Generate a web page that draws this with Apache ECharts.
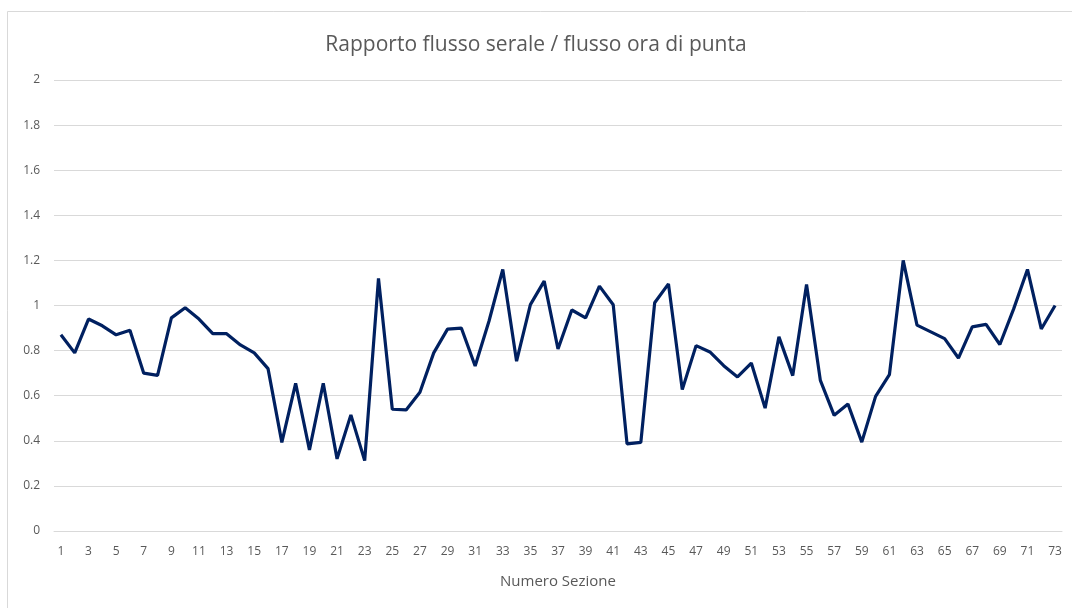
<!DOCTYPE html>
<html>
<head>
<meta charset="utf-8">
<script src="https://cdn.jsdelivr.net/npm/echarts@6/dist/echarts.min.js"></script>
<style>
    html, body { margin: 0; padding: 0; background: #fff; }
    #chart { width: 1072px; height: 608px; }
</style>
</head>
<body>
<div id="chart"></div>
<script>
// sezioni 1..73
const sezioni = [];
for (let i = 1; i <= 73; i++) sezioni.push(String(i));

// rapporto flusso serale / flusso ora di punta
const rapporto = [
    0.87, 0.79, 0.94, 0.91, 0.87, 0.89, 0.70, 0.69, 0.945, 0.99,
    0.94, 0.875, 0.875, 0.825, 0.79, 0.72, 0.393, 0.655, 0.36, 0.655,
    0.32, 0.515, 0.312, 1.12, 0.54, 0.537, 0.615, 0.79, 0.895, 0.90,
    0.732, 0.93, 1.16, 0.753, 1.004, 1.108, 0.807, 0.98, 0.945, 1.086,
    1.003, 0.386, 0.393, 1.012, 1.096, 0.627, 0.822, 0.794, 0.733, 0.683,
    0.745, 0.545, 0.861, 0.689, 1.093, 0.668, 0.513, 0.563, 0.394, 0.597,
    0.693, 1.20, 0.913, 0.883, 0.853, 0.767, 0.905, 0.916, 0.827, 0.985,
    1.16, 0.896, 1.0
];

const titolo = 'Rapporto flusso serale / flusso ora di punta';
const nomeAsseX = 'Numero Sezione';

const grey = '#595959';
const gridColor = '#d9d9d9';

const myChart = echarts.init(document.getElementById('chart'));

const option = {
    animation: false,
    backgroundColor: '#fff',
    title: {
        text: titolo,
        left: 'center',
        top: 30,
        textStyle: {
            fontFamily: 'Open Sans',
            fontWeight: 'normal',
            fontSize: 21,
            color: grey
        }
    },
    graphic: [{
        type: 'rect',
        shape: {x: 7.5, y: 11.5, width: 1200, height: 800},
        style: {fill: 'none', stroke: gridColor, lineWidth: 1},
        silent: true
    }],
    grid: {
        left: 54,
        right: 10,
        top: 80,
        bottom: 77,
        containLabel: false
    },
    xAxis: {
        type: 'category',
        data: sezioni,
        boundaryGap: true,
        name: nomeAsseX,
        nameLocation: 'middle',
        nameGap: 43,
        nameTextStyle: {
            fontFamily: 'Open Sans',
            fontSize: 15,
            color: grey
        },
        axisLine: {lineStyle: {color: gridColor, width: 1}},
        axisTick: {show: false},
        axisLabel: {
            interval: 1,
            margin: 15,
            fontFamily: 'Open Sans',
            fontSize: 12,
            color: grey
        }
    },
    yAxis: {
        type: 'value',
        min: 0,
        max: 2,
        interval: 0.2,
        axisLine: {show: false},
        axisTick: {show: false},
        splitLine: {lineStyle: {color: gridColor, width: 1}},
        axisLabel: {
            margin: 14,
            fontFamily: 'Open Sans',
            fontSize: 12,
            color: grey,
            formatter: (v) => String(Math.round(v * 10) / 10)
        }
    },
    series: [{
        type: 'line',
        data: rapporto,
        showSymbol: false,
        lineStyle: {color: '#002060', width: 3.2},
        itemStyle: {color: '#002060'}
    }]
};

myChart.setOption(option);
</script>
</body>
</html>
